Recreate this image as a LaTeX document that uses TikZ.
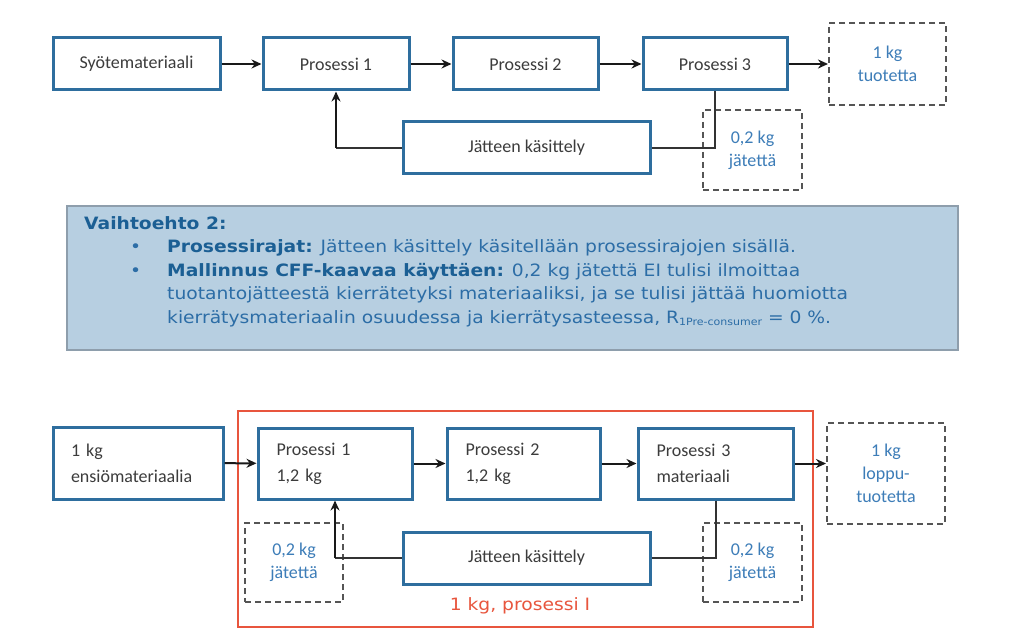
\documentclass[tikz,border=0pt]{standalone}
\usepackage{fontspec}
\setmainfont{Carlito}
\newfontfamily\verd[FakeStretch=1.1]{DejaVu Sans}
\usetikzlibrary{arrows.meta}
\definecolor{boxblue}{HTML}{2E6E9E}
\definecolor{dgrey}{HTML}{555555}
\definecolor{txtgrey}{HTML}{3C3C3C}
\definecolor{kgblue}{HTML}{3D7DB8}
\definecolor{panelfill}{HTML}{B7CFE1}
\definecolor{panelline}{HTML}{8E9EAC}
\definecolor{pdark}{HTML}{1B5F94}
\definecolor{ptext}{HTML}{2C6DA6}
\definecolor{redline}{HTML}{E8553D}
\tikzset{
  pbox/.style={draw=boxblue, line width=3pt, fill=white, text=txtgrey, font=\fontsize{18}{23}\selectfont, inner sep=0pt},
  pleft/.style={pbox, align=left, text width=#1, inner xsep=18pt},
  dbox/.style={draw=dgrey, line width=2pt, dash pattern=on 6pt off 4pt, text=kgblue, align=center, font=\fontsize{18}{23}\selectfont, inner sep=0pt},
  arr/.style={draw=black!90, line width=2pt, -{Stealth[length=10pt,width=9pt]}},
  fline/.style={draw=black!80, line width=2pt},
}
\begin{document}
\begin{tikzpicture}[x=1pt,y=-1pt]
\useasboundingbox[fill=white] (0,0) rectangle (1009,636);

% ---------- top row ----------
\node[pbox, minimum width=167pt, minimum height=52pt] (syo) at (136.5,64) {Syötemateriaali};
\node[pbox, minimum width=146pt, minimum height=52pt] (p1) at (336,64) {Prosessi 1};
\node[pbox, minimum width=145pt, minimum height=52pt] (p2) at (525.5,64) {Prosessi 2};
\node[pbox, minimum width=144pt, minimum height=52pt] (p3) at (715,64) {Prosessi 3};
\node[dbox, minimum width=117pt, minimum height=82pt] (out1) at (887.5,64) {1 kg\\tuotetta};
\node[pbox, minimum width=247pt, minimum height=52pt] (jk) at (526.5,148) {Jätteen käsittely};
\node[dbox, minimum width=99pt, minimum height=80pt] (w1) at (752.5,150) {0,2 kg\\jätettä};

\draw[arr] (syo) -- (p1);
\draw[arr] (p1) -- (p2);
\draw[arr] (p2) -- (p3);
\draw[arr] (p3) -- (out1);
\draw[fline] (p3.south) |- (jk.east);
\draw[fline] (jk.west) -- (jk.west -| p1.south);
\draw[arr] (jk.west -| p1.south) -- (p1.south);

% ---------- panel ----------
\draw[fill=panelfill, draw=panelline, line width=1.2pt] (67,206) rectangle (958,350);
\node[anchor=north west, inner sep=0pt, align=left, text=ptext,
      font=\verd\fontsize{17}{23.5}\selectfont] (ptxt) at (84,216) {%
{\bfseries\color{pdark}Vaihtoehto 2:}\\
\hspace*{46pt}\makebox[37pt][l]{•}{\bfseries\color{pdark}Prosessirajat:} Jätteen käsittely käsitellään prosessirajojen sisällä.\\
\hspace*{46pt}\makebox[37pt][l]{•}{\bfseries\color{pdark}Mallinnus CFF-kaavaa käyttäen:} 0,2 kg jätettä EI tulisi ilmoittaa\\
\hspace*{83pt}tuotantojätteestä kierrätetyksi materiaaliksi, ja se tulisi jättää huomiotta\\
\hspace*{83pt}kierrätysmateriaalin osuudessa ja kierrätysasteessa, R\raisebox{-2.5pt}{\fontsize{10}{10}\selectfont 1Pre-consumer} = 0 \%.};

% ---------- bottom row ----------
\draw[draw=redline, line width=2pt] (238,411) rectangle (813,627);
\node[pleft=134pt, minimum width=170pt, minimum height=72pt] (ens) at (138,463) {1 kg\\[3pt]ensiömateriaalia};
\node[pleft=117pt, minimum width=154pt, minimum height=71pt] (q1) at (335,463.5) {Prosessi 1\\[3pt]1,2 kg};
\node[pleft=116pt, minimum width=153pt, minimum height=71pt] (q2) at (523.5,463.5) {Prosessi 2\\[3pt]1,2 kg};
\node[pleft=118pt, minimum width=155pt, minimum height=71pt] (q3) at (715.5,463.5) {Prosessi 3\\[3pt]materiaali};
\node[dbox, minimum width=118pt, minimum height=101pt] (out2) at (886,473.5) {1 kg\\loppu-\\tuotetta};
\node[pbox, minimum width=247pt, minimum height=52pt] (jk2) at (526.5,558) {Jätteen käsittely};
\node[dbox, minimum width=98pt, minimum height=79pt] (wl) at (294,562.5) {0,2 kg\\jätettä};
\node[dbox, minimum width=99pt, minimum height=79pt] (wr) at (752.5,562.5) {0,2 kg\\jätettä};
\node[text=redline, font=\verd\fontsize{17}{18}\selectfont, inner sep=0pt] (lab) at (520,606) {1 kg, prosessi I};

\draw[arr] (ens) -- (q1);
\draw[arr] (q1) -- (q2);
\draw[arr] (q2) -- (q3);
\draw[arr] (q3.east) -- (q3.east -| out2.west);
\draw[fline] (q3.south) |- (jk2.east);
\draw[fline] (jk2.west) -- (jk2.west -| q1.south);
\draw[arr] (jk2.west -| q1.south) -- (q1.south);
\end{tikzpicture}
\end{document}
